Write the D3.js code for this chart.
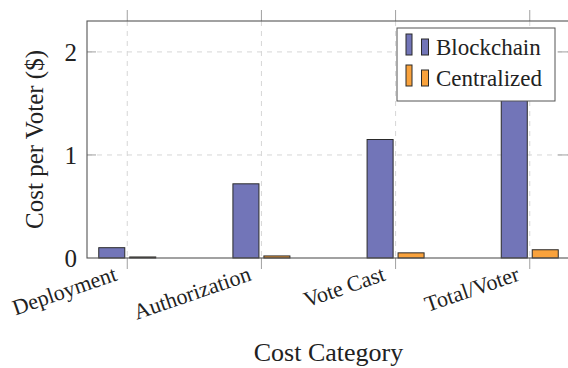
<!DOCTYPE html>
<html>
<head>
<meta charset="utf-8">
<script src="https://cdn.jsdelivr.net/npm/d3@7"></script>
<style>
  html, body { margin: 0; padding: 0; background: #fff; }
  svg { display: block; font-family: "Liberation Serif", "Times New Roman", serif; }
</style>
</head>
<body>
<svg id="chart" width="568" height="368"></svg>
<script>
// Cost per voter ($) by cost category
const categories = ["Deployment", "Authorization", "Vote Cast", "Total/Voter"];
const seriesNames = ["Blockchain", "Centralized"];
const blockchain = [0.10, 0.72, 1.15, 1.97];
const centralized = [0.01, 0.02, 0.05, 0.08];
const yTicks = [0, 1, 2];

const colors = { Blockchain: "#7275b8", Centralized: "#f9a23c" };
const values = { Blockchain: blockchain, Centralized: centralized };

const svg = d3.select("#chart");
const plot = { left: 87, right: 570, top: 21, bottom: 258 };

const x = d3.scalePoint().domain(categories).range([plot.left, plot.right]).padding(0.3);
const xs = d3.scaleBand().domain(seriesNames).range([-28.5, 28.5]).paddingInner(0.16);
const y = d3.scaleLinear().domain([0, 2.3]).range([plot.bottom, plot.top]);

const grid = svg.append("g").attr("stroke", "#d6d6d6").attr("stroke-dasharray", "5,5");
grid.selectAll("line.gx").data(categories).join("line")
  .attr("x1", d => x(d)).attr("x2", d => x(d))
  .attr("y1", plot.top).attr("y2", plot.bottom);
grid.selectAll("line.gy").data(yTicks.filter(t => t > 0)).join("line")
  .attr("x1", plot.left).attr("x2", plot.right)
  .attr("y1", d => y(d)).attr("y2", d => y(d));

// tick marks
const ticks = svg.append("g").attr("stroke", "#a0a0a0");
categories.forEach(c => {
  ticks.append("line").attr("x1", x(c)).attr("x2", x(c)).attr("y1", plot.bottom).attr("y2", plot.bottom + 11);
  ticks.append("line").attr("x1", x(c)).attr("x2", x(c)).attr("y1", plot.top - 11).attr("y2", plot.top);
});
yTicks.filter(t => t > 0).forEach(t => {
  ticks.append("line").attr("x1", plot.left).attr("x2", plot.left + 9).attr("y1", y(t)).attr("y2", y(t));
  ticks.append("line").attr("x1", plot.right - 12).attr("x2", plot.right).attr("y1", y(t)).attr("y2", y(t));
});

// bars
const groups = svg.append("g").selectAll("g").data(categories).join("g")
  .attr("transform", d => `translate(${x(d)},0)`);
seriesNames.forEach(s => {
  groups.append("rect")
    .attr("x", xs(s))
    .attr("width", xs.bandwidth())
    .attr("y", (d, i) => y(values[s][i]))
    .attr("height", (d, i) => y(0) - y(values[s][i]))
    .attr("fill", colors[s])
    .attr("stroke", "#2a2a2a")
    .attr("stroke-width", 1);
});

// axis frame
svg.append("rect")
  .attr("x", plot.left).attr("y", plot.top)
  .attr("width", plot.right - plot.left).attr("height", plot.bottom - plot.top)
  .attr("fill", "none").attr("stroke", "#555").attr("stroke-width", 1.1);

// y tick labels
svg.append("g").selectAll("text").data(yTicks).join("text")
  .attr("x", 77).attr("y", d => y(d)).attr("dy", "0.35em")
  .attr("text-anchor", "end").attr("font-size", 25).attr("fill", "#222")
  .text(d => d);

// x tick labels (rotated)
svg.append("g").selectAll("text").data(categories).join("text")
  .attr("transform", d => `translate(${x(d) - 9},${plot.bottom + 22}) rotate(-19)`)
  .attr("text-anchor", "end")
  .attr("font-size", 22).attr("fill", "#222")
  .text(d => d);

// axis titles
svg.append("text")
  .attr("x", (plot.left + plot.right) / 2).attr("y", 361)
  .attr("text-anchor", "middle").attr("font-size", 26).attr("fill", "#222")
  .text("Cost Category");
svg.append("text")
  .attr("transform", `translate(43,${(plot.top + plot.bottom) / 2}) rotate(-90)`)
  .attr("text-anchor", "middle").attr("font-size", 25).attr("fill", "#222")
  .text("Cost per Voter ($)");

// legend
const legend = svg.append("g");
legend.append("rect")
  .attr("x", 397).attr("y", 28).attr("width", 158).attr("height", 73)
  .attr("fill", "#fff").attr("stroke", "#555").attr("stroke-width", 1);
seriesNames.forEach((s, i) => {
  const base = 55 + i * 31;
  legend.append("rect").attr("x", 406).attr("y", base - 21).attr("width", 6).attr("height", 21)
    .attr("fill", colors[s]).attr("stroke", "#2a2a2a");
  legend.append("rect").attr("x", 421.5).attr("y", base - 16).attr("width", 7).attr("height", 16)
    .attr("fill", colors[s]).attr("stroke", "#2a2a2a");
  legend.append("text").attr("x", 436).attr("y", base)
    .attr("font-size", 23).attr("fill", "#222").text(s);
});
</script>
</body>
</html>
